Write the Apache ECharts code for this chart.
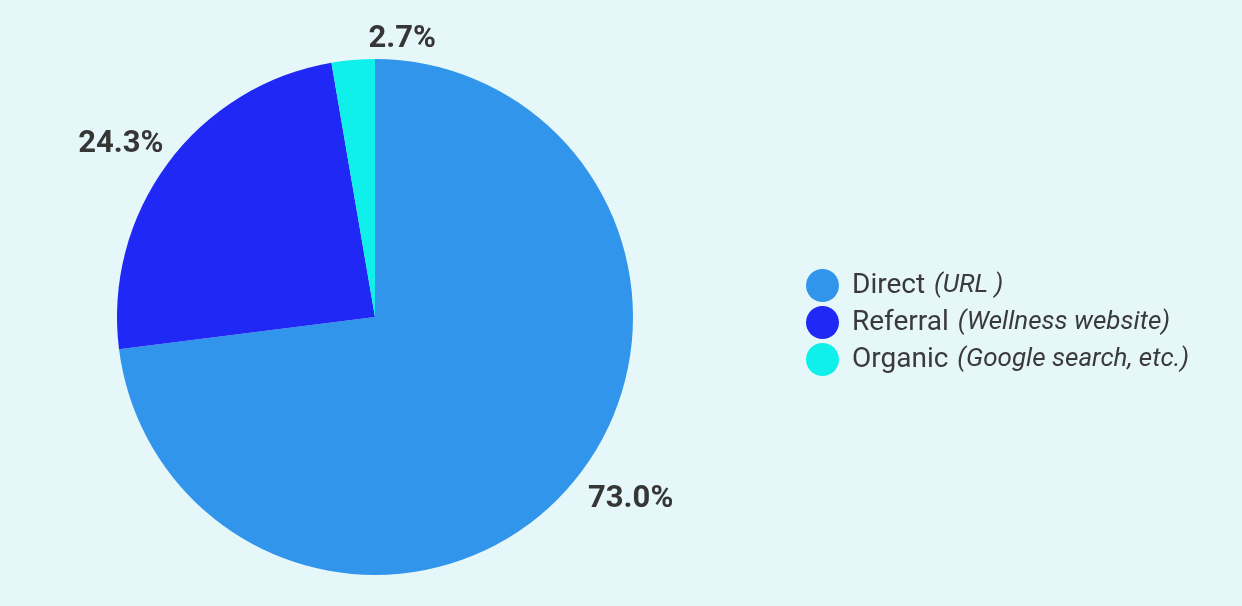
<!DOCTYPE html>
<html>
<head>
<meta charset="utf-8">
<script src="https://cdn.jsdelivr.net/npm/echarts@6/dist/echarts.min.js"></script>
<style>
  html, body { margin: 0; padding: 0; background: #e6f7fa; }
  #myEchart { width: 1242px; height: 606px; }
</style>
</head>
<body>
<div id="myEchart"></div>
<script>
  // data
  var names = ['Direct', 'Referral', 'Organic'];
  var notes = ['(URL )', '(Wellness website)', '(Google search, etc.)'];
  var values = [73.0, 24.3, 2.7];
  var colors = ['#3195eb', '#1f28f4', '#0ff0eb'];
  // small label nudges so they sit where the original tool put them
  var labelNudge = [[4, 2], [12, -11], [89, -7]];

  var myEchart = echarts.init(document.getElementById('myEchart'));

  var seriesData = names.map(function (n, i) {
    return { name: n, value: values[i], itemStyle: { color: colors[i] } };
  });

  var option = {
    backgroundColor: '#e6f7fa',
    animation: false,
    legend: {
      orient: 'vertical',
      left: 801,
      top: 264,
      itemWidth: 33,
      itemHeight: 33,
      itemGap: 4,
      icon: 'circle',
      data: names,
      formatter: function (name) {
        var i = names.indexOf(name);
        return '{a|' + name + '}{b|' + notes[i] + '}';
      },
      textStyle: {
        rich: {
          a: { fontFamily: 'Roboto', fontSize: 28, color: '#3a3a3a', padding: [0, 9, 0, 8] },
          b: { fontFamily: 'Roboto', fontStyle: 'italic', fontSize: 26, color: '#3a3a3a' }
        }
      }
    },
    series: [
      {
        type: 'pie',
        center: [375, 317],
        radius: [0, 258],
        startAngle: 90,
        clockwise: true,
        data: seriesData,
        label: {
          show: true,
          position: 'outside',
          formatter: function (p) { return p.value.toFixed(1) + '%'; },
          fontFamily: 'Roboto',
          fontWeight: 'bold',
          fontSize: 31,
          color: '#363636'
        },
        labelLine: { show: false, length: 14, length2: 0 },
        labelLayout: function (p) {
          var n = labelNudge[p.dataIndex];
          return { dx: n[0], dy: n[1] };
        },
        emphasis: { disabled: true }
      }
    ]
  };

  myEchart.setOption(option);
</script>
</body>
</html>
